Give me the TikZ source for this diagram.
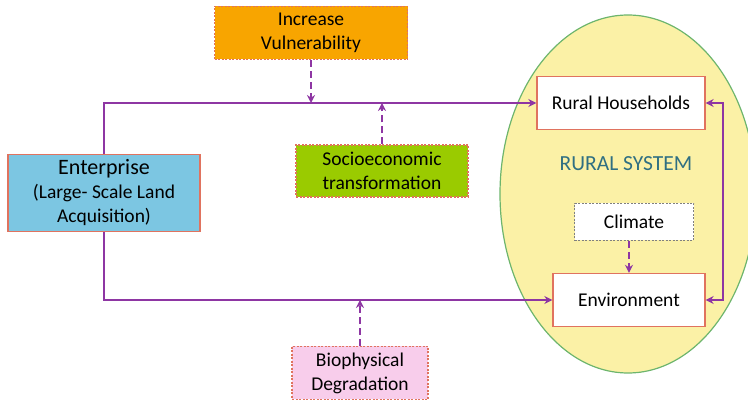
\documentclass[tikz,border=0pt]{standalone}
\usepackage{fontspec}
\setmainfont{Carlito}
\usetikzlibrary{calc,arrows.meta,positioning}
\definecolor{linkpurple}{HTML}{8E36A3}
\definecolor{boxred}{HTML}{E0735F}
\definecolor{orangefill}{HTML}{F8A500}
\definecolor{bluefill}{HTML}{7CC6E2}
\definecolor{limefill}{HTML}{9ACB00}
\definecolor{pinkfill}{HTML}{F8CDEB}
\definecolor{systemfill}{HTML}{FBF1A6}
\definecolor{systemedge}{HTML}{6DB56D}
\definecolor{systemtext}{HTML}{2F6F82}

\begin{document}
\begin{tikzpicture}[x=1pt,y=-1pt,>={Stealth[length=8pt,width=8pt]},
  font=\fontsize{19.5}{24}\selectfont,
  box/.style={rectangle,draw=boxred,line width=1.3pt,align=center,inner sep=0pt},
  driver/.style={box,dashed,dash pattern=on 2pt off 1.5pt},
  link/.style={draw=linkpurple,line width=2.2pt},
  dlink/.style={link,dash pattern=on 7pt off 4pt}]

  \useasboundingbox (0,0) rectangle (748,403);

  % rural system
  \draw[fill=systemfill,draw=systemedge,line width=1.2pt] (628,194) ellipse [x radius=128, y radius=179];
  \node[text=systemtext,font=\fontsize{21.5}{24}\selectfont] (sys) at (626,164) {RURAL SYSTEM};

  \node[driver,fill=orangefill,minimum width=193pt,minimum height=53pt] (vul) at (311,33) {Increase\\Vulnerability};
  \node[box,fill=bluefill,minimum width=192pt,minimum height=77pt] (ent) at (104,193)
    {{\fontsize{22}{24}\selectfont Enterprise}\\(Large- Scale Land\\Acquisition)};
  \node[driver,fill=limefill,minimum width=172pt,minimum height=52pt] (soc) at (382,171) {Socioeconomic\\transformation};
  \node[driver,fill=pinkfill,minimum width=136pt,minimum height=53pt] (bio) at (360,373) {Biophysical\\Degradation};

  \node[box,fill=white,minimum width=168pt,minimum height=53pt] (hh) at (621,103) {Rural Households};
  \node[box,fill=white,draw=gray,dashed,dash pattern=on 2pt off 1.5pt,minimum width=119pt,minimum height=37pt] (clim) at (634,222) {Climate};
  \node[box,fill=white,minimum width=152pt,minimum height=53pt] (env) at (629,300) {Environment};

  \coordinate (top) at (ent.north |- hh.west);
  \coordinate (bot) at (ent.south |- env.west);
  \coordinate (rt) at (723,0);

  \path[link,->] (ent.north) -- (top) -- (hh.west);
  \path[link,->] (ent.south) -- (bot) -- (env.west);
  \path[link,<->] (hh.east) -- (rt |- hh.east) -- (rt |- env.east) -- (env.east);

  \path[dlink,->] (vul.south) -- (vul.south |- top);
  \path[dlink,->] (soc.north) -- (soc.north |- top);
  \path[dlink,->] (bio.north) -- (bio.north |- bot);
  \path[dlink,->] (clim.south -| env.north) -- (env.north);

\end{tikzpicture}
\end{document}
